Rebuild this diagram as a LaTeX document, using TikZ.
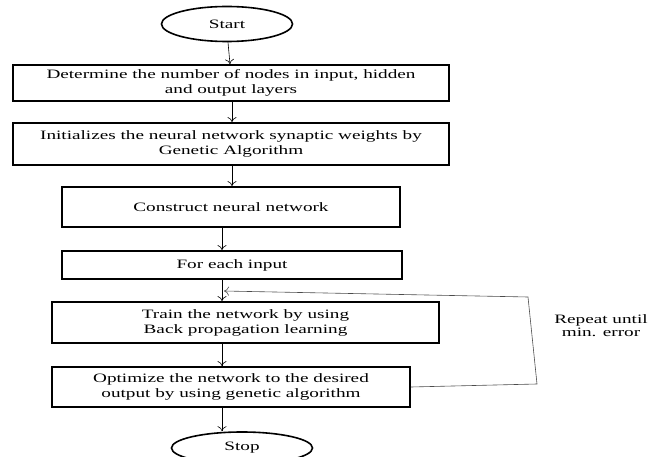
\documentclass[tikz,border=0pt]{standalone}
\usepackage{fontspec}
\newfontfamily\flowfont[FakeStretch=1.5]{Liberation Serif}
\usetikzlibrary{shapes.geometric,arrows.meta}
\begin{document}
\begin{tikzpicture}[x=1pt,y=-1pt,
    font=\flowfont\fontsize{12.8}{15}\selectfont,
    >={To[length=5pt,width=9pt]},
    stepbox/.style={rectangle, draw, line width=1.8pt, align=center, inner sep=0pt},
    terminal/.style={ellipse, draw, line width=1.6pt, inner sep=0pt},
    flow/.style={->, line width=0.6pt}]
    \useasboundingbox (0,0) rectangle (651,457);
        % Nodes
        \node (start) [terminal, minimum width=131pt, minimum height=35pt] at (227,24) {Start};
        \node (layers) [stepbox, minimum width=436pt, minimum height=36pt] at (231,83)
            {Determine the number of nodes in input, hidden\\and output layers};
        \node (weights) [stepbox, minimum width=436pt, minimum height=42pt] at (231,144)
            {Initializes the neural network synaptic weights by\\Genetic Algorithm};
        \node (build) [stepbox, minimum width=338pt, minimum height=40pt] at (231,207)
            {Construct neural network};
        \node (input) [stepbox, minimum width=340pt, minimum height=28pt] at (232,265)
            {For each input};
        \node (train) [stepbox, minimum width=387pt, minimum height=41pt] at (245.5,322.5)
            {Train the network by using\\Back propagation learning};
        \node (optim) [stepbox, minimum width=358pt, minimum height=40pt] at (231,387)
            {Optimize the network to the desired\\output by using genetic algorithm};
        \node (stop) [terminal, minimum width=141pt, minimum height=32pt] at (242,448) {Stop};
        \node (repeat) [align=center, inner sep=0pt, font=\flowfont\fontsize{12.8}{13}\selectfont] at (601,326)
            {Repeat until\\min. error};
        \coordinate (loopa) at (537,384);
        \coordinate (loopb) at (528,297);
        \coordinate (loopend) at (224,291);

        % Edges
        \draw[flow] ([xshift=1pt]start.south) -- ([xshift=-1pt]layers.north);
        \draw[flow] ([xshift=1pt]layers.south) -- ([xshift=1pt]weights.north);
        \draw[flow] ([xshift=1pt]weights.south) -- ([xshift=1pt]build.north);
        \draw[flow] ([xshift=-9pt]build.south) -- ([xshift=-10pt]input.north);
        \draw[flow] ([xshift=-10pt]input.south) -- ([xshift=-23.5pt]train.north);
        \draw[flow] ([xshift=-23.5pt]train.south) -- ([xshift=-9pt]optim.north);
        \draw[flow] ([xshift=-9pt]optim.south) -- ([xshift=-20pt]stop.north);
        \draw[flow, draw=black!70] (optim.east) -- (loopa) -- (loopb) -- (loopend);

    \end{tikzpicture}
\end{document}
